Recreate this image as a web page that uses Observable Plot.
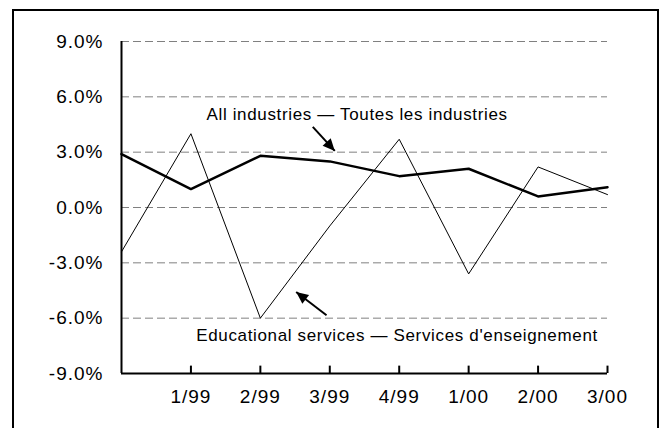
<!DOCTYPE html>
<html>
<head>
<meta charset="utf-8">
<script src="https://cdn.jsdelivr.net/npm/d3@7"></script>
<script src="https://cdn.jsdelivr.net/npm/@observablehq/plot@0.6"></script>
<style>
  html, body { margin: 0; padding: 0; background: #fff; overflow: hidden; }
  #wrap { position: relative; width: 662px; height: 428px; }
  #frame { position: absolute; left: 12px; top: 9px; width: 643px; height: 450px; border: 2px solid #000; pointer-events: none; }
  #chart svg { display: block; }
  #chart g[aria-label="x-axis tick label"] text,
  #chart g[aria-label="y-axis tick label"] text { letter-spacing: 1px; }
  #chart g[aria-label="text"] text { letter-spacing: 0.65px; }
</style>
</head>
<body>
<div id="wrap"><div id="chart"></div><div id="frame"></div></div>
<script>
// Quarters (first quarter label is not shown in the original)
const quarters = ["", "1/99", "2/99", "3/99", "4/99", "1/00", "2/00", "3/00"];
// Percent change, all industries
const allIndustries = [2.9, 1.0, 2.8, 2.5, 1.7, 2.1, 0.6, 1.1];
// Percent change, educational services
const educational = [-2.4, 4.0, -6.0, -1.0, 3.7, -3.6, 2.2, 0.7];
// Axis ticks
const yTicks = [-9, -6, -3, 0, 3, 6, 9];
const gridValues = [-6, -3, 0, 3, 6, 9];
const xTicks = [1, 2, 3, 4, 5, 6, 7];
// Annotation labels
const labelAll = "All industries — Toutes les industries";
const labelEdu = "Educational services — Services d'enseignement";

const allData = allIndustries.map((v, i) => ({i, v}));
const eduData = educational.map((v, i) => ({i, v}));
const tickData = xTicks.map(t => ({t, lo: -9, hi: -8.6}));

const chart = Plot.plot({
  width: 662,
  height: 428,
  marginLeft: 121,
  marginRight: 55,
  marginTop: 41,
  marginBottom: 55,
  x: {domain: [0, 7]},
  y: {domain: [-9, 9]},
  style: {fontFamily: "'Liberation Sans', Arial, sans-serif", fontSize: "19px", color: "#000", background: "transparent"},
  marks: [
    Plot.ruleY(gridValues, {stroke: "#808080", strokeWidth: 1, strokeDasharray: "8,4"}),
    Plot.axisY({ticks: yTicks, tickFormat: d => d.toFixed(1) + "%", tickSize: 0, tickPadding: 18, label: null, fontSize: 19}),
    Plot.axisX({ticks: xTicks, tickFormat: i => quarters[i], tickSize: 0, tickPadding: 16, label: null, fontSize: 19}),
    Plot.ruleX([0], {stroke: "#000", strokeWidth: 2}),
    Plot.ruleY([-9], {stroke: "#000", strokeWidth: 2}),
    Plot.ruleX(tickData, {x: "t", y1: "lo", y2: "hi", stroke: "#000", strokeWidth: 2}),
    Plot.line(eduData, {x: "i", y: "v", stroke: "#000", strokeWidth: 1}),
    Plot.line(allData, {x: "i", y: "v", stroke: "#000", strokeWidth: 2.5}),
    Plot.text([labelAll], {x: 1.224, y: 5.06, text: d => d, textAnchor: "start", fontSize: 17, fill: "#000"}),
    Plot.text([labelEdu], {x: 1.076, y: -6.96, text: d => d, textAnchor: "start", fontSize: 17, fill: "#000"}),
    Plot.link([{x1: 2.755, y1: 4.37, x2: 3.072, y2: 3.07}], {x1: "x1", y1: "y1", x2: "x2", y2: "y2", stroke: "#000", strokeWidth: 2, markerEnd: "arrow"}),
    Plot.link([{x1: 2.953, y1: -5.84, x2: 2.516, y2: -4.58}], {x1: "x1", y1: "y1", x2: "x2", y2: "y2", stroke: "#000", strokeWidth: 2, markerEnd: "arrow"})
  ]
});

// Filled arrowheads
d3.select(chart).selectAll("marker").each(function() {
  const m = d3.select(this);
  m.attr("viewBox", "-13 -6 14 12")
   .attr("markerUnits", "userSpaceOnUse")
   .attr("markerWidth", 14).attr("markerHeight", 12)
   .attr("refX", 0).attr("refY", 0);
  m.selectAll("*").remove();
  m.append("path").attr("d", "M-12,-5.5L0,0L-12,5.5Z").attr("fill", "#000").attr("stroke", "none");
});

document.getElementById("chart").appendChild(chart);
</script>
</body>
</html>
